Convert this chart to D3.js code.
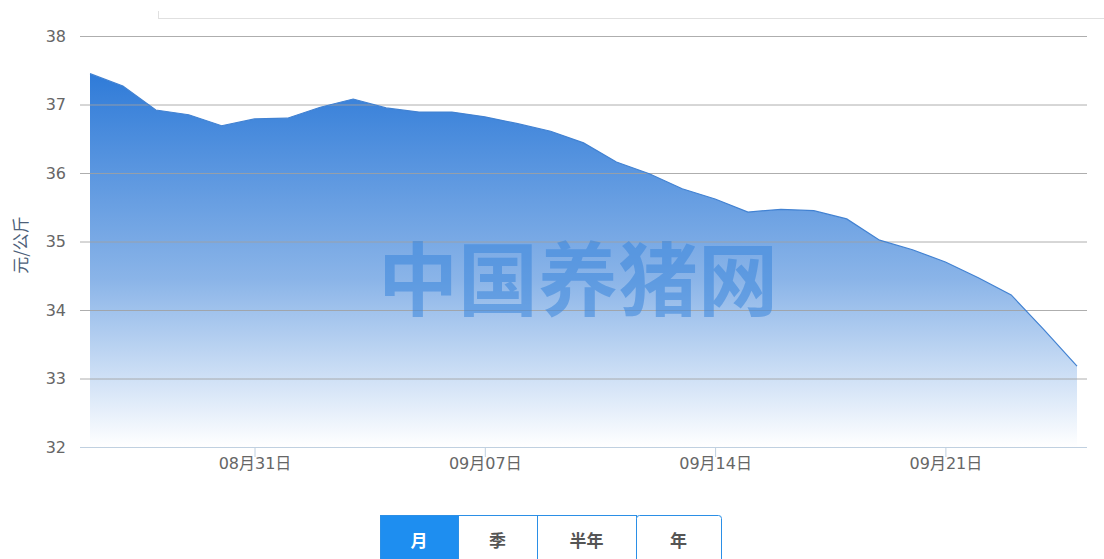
<!DOCTYPE html>
<html><head><meta charset="utf-8">
<script src="https://cdn.jsdelivr.net/npm/d3@7/dist/d3.min.js"></script>
<style>
html,body{margin:0;padding:0;background:#fff;}
svg{display:block;}
text{font-family:"Noto Sans CJK SC","DejaVu Sans",sans-serif;}
.num{font-family:"DejaVu Sans","Noto Sans CJK SC",sans-serif;}
</style></head>
<body><svg id="c" width="1104" height="559"></svg>
<script>
const dates = ["08-26","08-27","08-28","08-29","08-30","08-31","09-01","09-02","09-03","09-04","09-05","09-06","09-07","09-08","09-09","09-10","09-11","09-12","09-13","09-14","09-15","09-16","09-17","09-18","09-19","09-20","09-21","09-22","09-23","09-24","09-25"];
const prices = [37.45,37.27,36.92,36.85,36.69,36.79,36.80,36.96,37.08,36.95,36.89,36.89,36.82,36.72,36.61,36.44,36.16,35.99,35.77,35.62,35.43,35.47,35.45,35.33,35.02,34.88,34.70,34.47,34.22,33.71,33.18];
const yTicks = [32,33,34,35,36,37,38];
const xTickDates = ["08-31","09-07","09-14","09-21"];
const xTickLabels = ["08月31日","09月07日","09月14日","09月21日"];
const yTitle = "元/公斤";
const watermark = "中国养猪网";
const periods = ["月","季","半年","年"];

(function(){
const svg = d3.select("#c");
const parse = s => new Date(2020, +s.slice(0,2)-1, +s.slice(3));
const data = dates.map((d,i)=>({d:parse(d), v:prices[i]}));

const pl=80, pr=1087, pt=36, pb=447;
const x = d3.scaleTime().domain([parse("08-26"), parse("09-25")]).range([90,1077]);
const y = d3.scaleLinear().domain([32,38]).range([pb, pt]);

// top decorative line
svg.append("line").attr("x1",158).attr("x2",1104).attr("y1",18.5).attr("y2",18.5).attr("stroke","#e0e0e0");
svg.append("line").attr("x1",158.5).attr("x2",158.5).attr("y1",11).attr("y2",18).attr("stroke","#e0e0e0");

// gradient
const defs = svg.append("defs");
const g = defs.append("linearGradient").attr("id","ag").attr("x1",0).attr("y1",0).attr("x2",0).attr("y2",1);
g.append("stop").attr("offset","0%").attr("stop-color","#2f7bd8");
g.append("stop").attr("offset","55%").attr("stop-color","#8ab4e8");
g.append("stop").attr("offset","100%").attr("stop-color","#ffffff");

// area
const area = d3.area().x(d=>x(d.d)).y0(pb).y1(d=>y(d.v));
svg.append("path").datum(data).attr("d",area).attr("fill","url(#ag)");

// grid
const yAxis = d3.axisLeft(y).tickValues(yTicks).tickSize(-(pr-pl)).tickFormat(d3.format("d"));
const ga = svg.append("g").attr("transform",`translate(${pl},0)`).call(yAxis);
ga.select(".domain").remove();
ga.selectAll(".tick line").attr("stroke","#a0a0a0").attr("stroke-width",1).attr("opacity",0.85);
ga.selectAll(".tick text").attr("class","num").attr("x",-14).attr("fill","#666").attr("font-size",16);
ga.selectAll(".tick").filter(d=>d===32).select("line").attr("stroke","#c0d0e0").attr("opacity",1);

// line
const line = d3.line().x(d=>x(d.d)).y(d=>y(d.v));
svg.append("path").datum(data).attr("d",line).attr("fill","none").attr("stroke","#4282d2").attr("stroke-width",1.2);

// x axis
const xAxis = d3.axisBottom(x).tickValues(xTickDates.map(parse)).tickSize(10).tickFormat((d,i)=>xTickLabels[i]);
const gx = svg.append("g").attr("transform",`translate(0,${pb})`).call(xAxis);
gx.select(".domain").remove();
gx.selectAll(".tick line").attr("stroke","#c0d0e0");
gx.selectAll(".tick text").attr("class","num").attr("fill","#666").attr("font-size",16).attr("y",11);

// watermark
svg.append("text").attr("x",578).attr("y",309).attr("text-anchor","middle")
  .attr("font-size",80).attr("font-weight","bold").attr("fill","#3a86dc").attr("opacity",0.55)
  .text(watermark);

// y title
svg.append("text").attr("transform","translate(27,245) rotate(-90)").attr("text-anchor","middle")
  .attr("fill","#4d5f7a").attr("font-size",17).text(yTitle);

// buttons
const bx = [380,458,537,636,721];
const bg = svg.append("g");
periods.forEach((p,i)=>{
  bg.append("rect").attr("x",bx[i]+0.5).attr("y",515.5).attr("width",bx[i+1]-bx[i]).attr("height",50)
    .attr("fill", i===0?"#1e8ef0":"#fff").attr("stroke","#2b8fe6").attr("stroke-width",1).attr("rx",i===3?3:0);
  bg.append("text").attr("x",(bx[i]+bx[i+1])/2).attr("y",547).attr("text-anchor","middle")
    .attr("font-size",17).attr("font-weight","bold").attr("fill", i===0?"#fff":"#555").text(p);
});
})();
</script></body></html>
